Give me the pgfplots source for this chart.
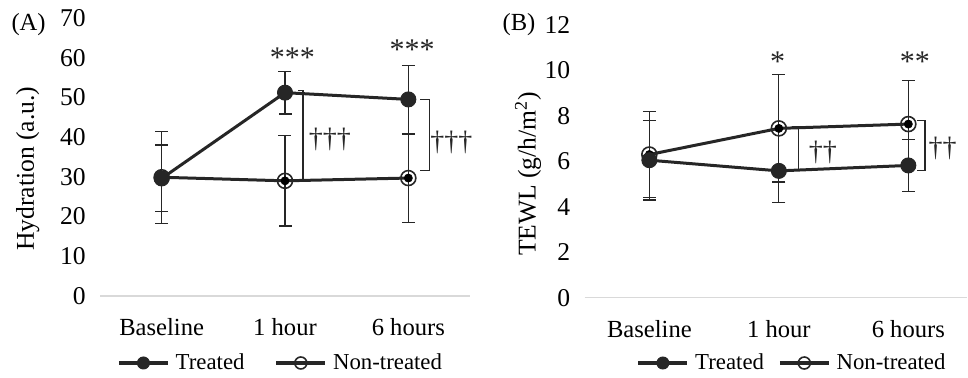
\documentclass[border=0pt]{standalone}
\usepackage{pgfplots}
\pgfplotsset{compat=1.18}
\usepackage{pgfplotstable}
\usepackage{fontspec}
\setmainfont{Liberation Serif}
\definecolor{lineC}{RGB}{38,38,38}
\definecolor{axC}{RGB}{217,217,217}

\pgfplotstableread{
x y ep em
0 29.6 8.4 8.4
1 51.2 5.35 5.35
2 49.5 8.5 8.5
}\Atreat
\pgfplotstableread{
x y ep em
0 29.9 11.6 11.6
1 29.0 11.4 11.4
2 29.7 11.1 11.1
}\Anon
\pgfplotstableread{
x y ep em
0 6.05 1.75 1.75
1 5.58 0.0 1.39
2 5.82 1.15 1.15
}\Btreat
\pgfplotstableread{
x y ep em
0 6.30 1.90 1.90
1 7.45 2.36 2.36
2 7.64 1.92 1.92
}\Bnon

\tikzset{
  brk/.style={lineC, line width=0.6pt},
  ann/.style={font=\fontsize{14}{16}\selectfont, text=lineC},
  ast/.style={font=\fontsize{15}{17}\selectfont, text=lineC},
}
\pgfplotsset{
  panel/.style={
    scale only axis,
    xmin=-0.5,
    xtick={0,1,2},
    xticklabels={Baseline,1 hour,6 hours},
    axis lines=left,
    axis line style={-},
    x axis line style={draw=axC, line width=0.8pt},
    y axis line style={draw=none},
    major tick length=0pt,
    tick label style={text=black},
    /pgf/number format/assume math mode=true,
    xticklabel style={font=\fontsize{12.3}{14}\selectfont, anchor=north, inner sep=0pt, yshift=-11pt},
    yticklabel style={font=\fontsize{12.8}{14}\selectfont, anchor=east, inner sep=0pt, xshift=-7pt},
    label style={font=\fontsize{12.8}{14}\selectfont},
    clip=false,
    legend columns=2,
    legend style={draw=none, fill=none, font=\fontsize{11.4}{13}\selectfont, anchor=center, inner sep=0pt,
      nodes={inner sep=1pt},
      /tikz/every odd column/.append style={column sep=2pt}},
    legend image code/.code={\draw[mark repeat=2,mark phase=2,##1,line width=1.8pt,mark size=3pt] plot coordinates {(0pt,0pt) (12.25pt,0pt) (24.5pt,0pt)};},
  },
  errs/.style={forget plot, only marks, mark=none,
    error bars/.cd, y dir=both, y explicit,
    error bar style={line width=0.6pt, draw=lineC},
    error mark options={rotate=90, line width=0.6pt, draw=lineC, mark size=3.25pt}},
  tr/.style={lineC, line width=1.5pt, mark=*, mark size=3.75pt, mark options={fill=lineC, draw=lineC, line width=0.5pt}},
  nt/.style={lineC, line width=1.5pt, mark=o, mark size=3.75pt, mark options={draw=lineC, line width=0.8pt}},
}

\begin{document}
\begin{tikzpicture}
\useasboundingbox (0pt,0pt) rectangle (484pt,189pt);

% ---------------- Panel A ----------------
\begin{axis}[panel, at={(50pt,41pt)}, anchor=south west, width=185pt, height=139pt,
  xmax=2.5, ymin=0, ymax=70, ytick={0,10,...,70},
  ylabel={Hydration (a.u.)},
  ylabel style={at={(axis description cs:-0.195,0.458)}, anchor=center},
  legend style={at={(axis description cs:0.488,-0.241)}, /tikz/every even column/.append style={column sep=14pt}},
]
\addplot[errs] table[x=x, y=y, y error plus=ep, y error minus=em] {\Anon};
\addplot[errs] table[x=x, y=y, y error plus=ep, y error minus=em] {\Atreat};
\addplot[tr] table[x=x, y=y] {\Atreat};
\addlegendentry{Treated}
\addplot[nt] table[x=x, y=y] {\Anon};
\addlegendentry{Non-treated}
\draw[brk] (axis cs:1.105,51.7) -- (axis cs:1.146,51.7) -- (axis cs:1.146,29.4) -- (axis cs:1.105,29.4);
\draw[brk] (axis cs:2.097,49.5) -- (axis cs:2.173,49.5) -- (axis cs:2.173,31.6) -- (axis cs:2.097,31.6);
\node[ann] at (axis cs:1.364,39.3) {†††};
\node[ann] at (axis cs:2.348,38.6) {†††};
\node[ast] at (axis cs:1.06,60.0) {***};
\node[ast] at (axis cs:2.03,62.0) {***};
\node[font=\fontsize{12.3}{14}\selectfont] at (axis description cs:-0.193,0.975) {(A)};
\end{axis}

% ---------------- Panel B ----------------
\begin{axis}[panel, at={(292.3pt,40.15pt)}, anchor=south west, width=191pt, height=136.35pt,
  xmax=2.45, ymin=0, ymax=12, ytick={0,2,...,12},
  ylabel={TEWL (g/h/m\textsuperscript{2})},
  ylabel style={at={(axis description cs:-0.148,0.454)}, anchor=center},
  legend style={at={(axis description cs:0.543,-0.2395)}, /tikz/every even column/.append style={column sep=6pt}},
]
\addplot[errs] table[x=x, y=y, y error plus=ep, y error minus=em] {\Bnon};
\addplot[errs] table[x=x, y=y, y error plus=ep, y error minus=em] {\Btreat};
\addplot[tr] table[x=x, y=y] {\Btreat};
\addlegendentry{Treated}
\addplot[nt] table[x=x, y=y] {\Bnon};
\addlegendentry{Non-treated}
\draw[brk] (axis cs:1.10,7.53) -- (axis cs:1.151,7.53) -- (axis cs:1.151,5.59) -- (axis cs:1.10,5.59);
\draw[brk] (axis cs:2.065,7.80) -- (axis cs:2.129,7.80) -- (axis cs:2.129,5.58) -- (axis cs:2.065,5.58);
\node[ann] at (axis cs:1.34,6.40) {††};
\node[ann] at (axis cs:2.265,6.58) {††};
\node[ast] at (axis cs:0.99,10.4) {*};
\node[ast] at (axis cs:2.05,10.37) {**};
\node[font=\fontsize{12.3}{14}\selectfont] at (axis description cs:-0.1717,1.0) {(B)};
\end{axis}
\end{tikzpicture}
\end{document}
